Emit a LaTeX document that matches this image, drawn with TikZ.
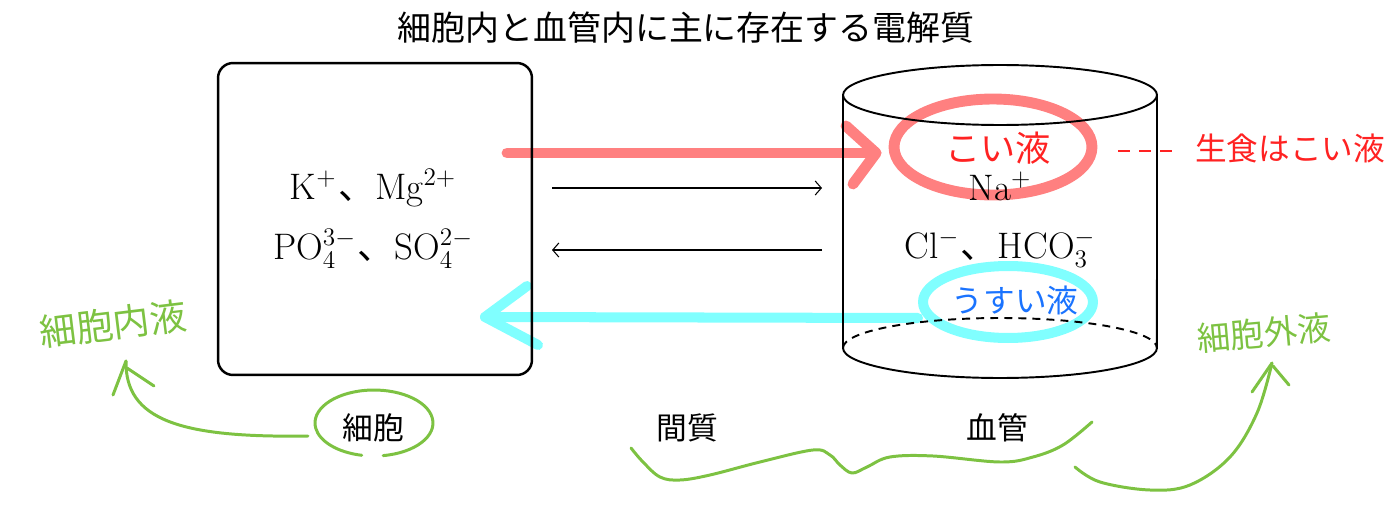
\documentclass[tikz,border=0pt]{standalone}
\usepackage{fontspec}
\newfontfamily\cjk{Noto Sans CJK JP}
\usetikzlibrary{arrows.meta}
\definecolor{hlred}{HTML}{FF8080}
\definecolor{txtred}{HTML}{FF2222}
\definecolor{hlcyan}{HTML}{80FFFF}
\definecolor{txtblue}{HTML}{1A73FF}
\definecolor{pen}{HTML}{7DC242}
\begin{document}
\begin{tikzpicture}[x=0.02cm,y=-0.02cm,
  redhl/.style={draw=hlred,line width=6.2pt,line cap=round,line join=round},
  cyanhl/.style={draw=hlcyan,line width=5.7pt,line cap=round,line join=round},
  greenpen/.style={draw=pen,line width=1.7pt,line cap=round,line join=round},
  cylline/.style={draw=black,line width=1.1pt},
  thinarrow/.style={draw=black,line width=0.6pt,-{Straight Barb[length=3.5pt,width=8pt]}},
  chem/.style={anchor=base,inner sep=0pt,font=\fontsize{21}{21}\selectfont},
  jlabel/.style={inner sep=0pt,font=\cjk\fontsize{17.5}{17.5}\selectfont},
  handred/.style={inner sep=0pt,text=txtred},
  handgreen/.style={inner sep=0pt,text=pen},
]
\useasboundingbox (0,0) rectangle (1390,510);

% title
\node[inner sep=0pt] (title) at (686,28) {\cjk\fontsize{19.3}{19.3}\selectfont 細胞内と血管内に主に存在する電解質};

% ---------- highlights (behind) ----------
\draw[redhl] (993,147) ellipse [x radius=1.98cm, y radius=0.96cm];
\coordinate (rs) at (507,153);
\coordinate (re) at (876,153);
\draw[redhl] (rs) -- (re);
\draw[redhl] (846,126) -- (re) -- (853,184);

\draw[cyanhl] (1008,302) ellipse [x radius=1.7cm, y radius=0.72cm];
\coordinate (cs) at (918,318);
\coordinate (ce) at (485,317);
\draw[cyanhl] (cs) -- (ce);
\draw[cyanhl] (527,286) -- (ce) -- (538,345);

% ---------- cell box ----------
\node[draw,line width=1.4pt,rounded corners=0.3cm,minimum width=6.28cm,minimum height=6.24cm] (cell) at (375,219) {};
\node[chem] (ions1) at (373,199) {K$^{+}$\kern1pt{\cjk 、}Mg$^{2+}$};
\node[chem] (ions2) at (373,259) {PO$_4^{3-}$\kern1pt{\cjk 、}SO$_4^{2-}$};

% ---------- vessel cylinder ----------
\draw[cylline] (1000,95) ellipse [x radius=3.14cm, y radius=0.6cm];
\draw[cylline] (843,95) -- (843,348) arc[start angle=180,end angle=360,x radius=3.14cm,y radius=0.6cm] -- (1157,95);
\draw[cylline,dash pattern=on 4.5pt off 3.5pt] (843,348) arc[start angle=180,end angle=0,x radius=3.14cm,y radius=0.6cm];
\node[chem] (ions3) at (1000,200) {Na$^{+}$};
\node[chem] (ions4) at (1000,258) {Cl$^{-}$\kern1pt{\cjk 、}HCO$_3^{-}$};

% ---------- thin arrows ----------
\coordinate (a1s) at (552,188);
\coordinate (a1e) at (822,188);
\coordinate (a2s) at (822,250);
\coordinate (a2e) at (552,250);
\draw[thinarrow] (a1s) -- (a1e);
\draw[thinarrow] (a2s) -- (a2e);

% ---------- handwritten notes ----------
\node[handred,font=\cjk\fontsize{20}{20}\selectfont] (koi) at (998,148) {こい液};
\coordinate (dd1) at (1118,151);
\coordinate (dd2) at (1176,151);
\draw[draw=txtred,line width=1.3pt,dash pattern=on 7pt off 5pt] (dd1) -- (dd2);
\node[handred,font=\cjk\fontsize{18}{18}\selectfont] (seishoku) at (1290,148) {生食はこい液};
\node[inner sep=0pt,text=txtblue,font=\cjk\fontsize{18}{18}\selectfont] (usui) at (1015,300) {うすい液};

% bottom labels
\node[jlabel] (saibo) at (373,428) {細胞};
\node[jlabel] (kanshitsu) at (687,428) {間質};
\node[jlabel] (kekkan) at (997,428) {血管};

% green notes
\node[handgreen,rotate=7,font=\cjk\fontsize{21}{21}\selectfont] (naieki) at (113,324) {細胞内液};
\node[handgreen,rotate=5,font=\cjk\fontsize{19}{19}\selectfont] (gaieki) at (1264,333) {細胞外液};

% circle round 細胞 (with gap)
\draw[greenpen] (383.2,455.6) arc[start angle=279,end angle=618,x radius=1.18cm,y radius=0.66cm];

% arrow to 細胞内液
\coordinate (g1s) at (308,436);
\coordinate (g1e) at (126,361);
\draw[greenpen] (g1s) .. controls (180,438) and (125,420) .. (g1e);
\draw[greenpen] (g1e) -- (113,395);
\draw[greenpen] (127,368) -- (154,386);

% wavy line under 間質 / 血管
\draw[greenpen] plot[smooth,tension=0.6] coordinates {(631,448) (643,462) (660,477) (680,480) (710,475) (760,462) (813,450) (830,455) (840,465) (852,473) (867,467) (890,457) (933,456) (1000,462) (1033,457) (1063,445) (1092,422)};

% arrow to 細胞外液
\coordinate (g2s) at (1075,467);
\coordinate (g2e) at (1272,363);
\draw[greenpen] plot[smooth,tension=0.6] coordinates {(g2s) (1100,482) (1150,490) (1190,485) (1230,457) (1257,413) (g2e)};
\draw[greenpen] (g2e) -- (1252,392);
\draw[greenpen] (1273,366) -- (1289,385);
\end{tikzpicture}
\end{document}
